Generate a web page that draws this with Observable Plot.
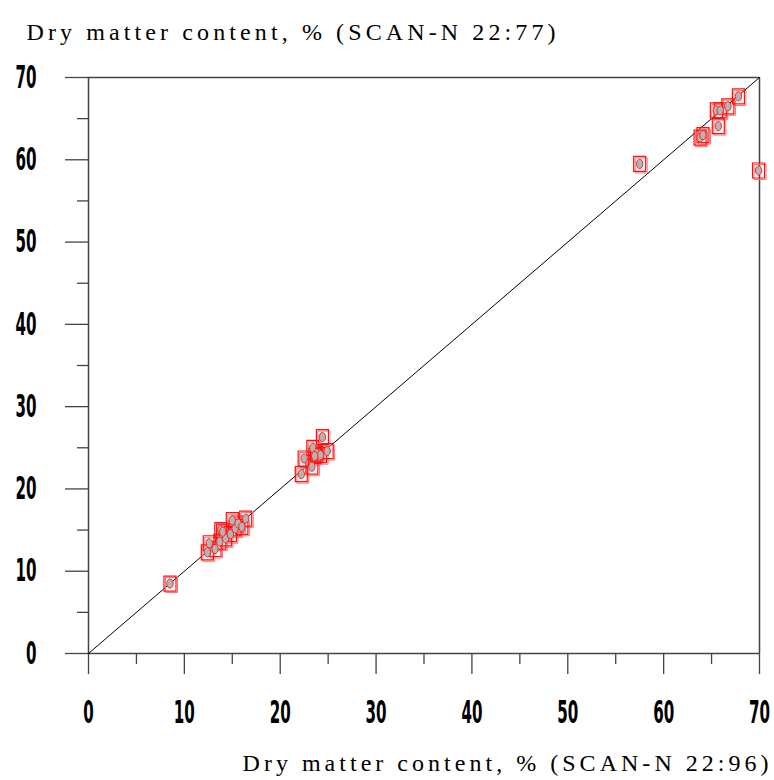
<!DOCTYPE html>
<html>
<head>
<meta charset="utf-8">
<script src="https://cdn.jsdelivr.net/npm/d3@7"></script>
<script src="https://cdn.jsdelivr.net/npm/@observablehq/plot@0.6"></script>
<style>
  html, body { margin: 0; padding: 0; background: white; }
</style>
</head>
<body>
<div id="chart"></div>
<script>
// Dry matter content, % by SCAN-N 22:96 (x) versus SCAN-N 22:77 (y)
const scan96 = [8.5, 12.4, 12.6, 13.2, 13.7, 13.8, 14.3, 14.8, 15.0, 15.3, 15.6, 16.0, 16.4, 14.0,
                22.2, 22.5, 23.3, 23.4, 23.8, 24.4, 24.2, 24.9, 23.6,
                57.5, 63.8, 64.1, 65.5, 65.7, 65.9, 66.7, 67.8, 69.9];
const scan77 = [8.5, 12.3, 13.4, 12.7, 13.6, 15.0, 14.0, 14.5, 16.2, 15.2, 15.8, 15.4, 16.4, 14.8,
                21.8, 23.7, 22.7, 25.0, 24.3, 26.3, 24.1, 24.6, 24.0,
                59.5, 62.7, 63.0, 66.0, 64.1, 66.0, 66.5, 67.7, 58.7];
const identity = [0, 70];
const majorTicks = [0, 10, 20, 30, 40, 50, 60, 70];
const minorTicks = [5, 15, 25, 35, 45, 55, 65];
const xTitle = "Dry matter content, % (SCAN-N 22:96)";
const yTitle = "Dry matter content, % (SCAN-N 22:77)";

const points = scan96.map((x, i) => ({x, y: scan77[i]}));
const diag = identity.map(v => ({x: v, y: v}));

const boxSymbol = {
  draw(ctx) { ctx.moveTo(-6, -7.5); ctx.lineTo(6, -7.5); ctx.lineTo(6, 7.5); ctx.lineTo(-6, 7.5); ctx.closePath(); }
};
const ellipseSymbol = {
  draw(ctx) {
    const rx = 3.2, ry = 4.6, k = 0.5523;
    ctx.moveTo(rx, 0);
    ctx.bezierCurveTo(rx, ry * k, rx * k, ry, 0, ry);
    ctx.bezierCurveTo(-rx * k, ry, -rx, ry * k, -rx, 0);
    ctx.bezierCurveTo(-rx, -ry * k, -rx * k, -ry, 0, -ry);
    ctx.bezierCurveTo(rx * k, -ry, rx, -ry * k, rx, 0);
    ctx.closePath();
  }
};

const tickFont = "'Liberation Sans Narrow', 'DejaVu Sans Condensed', 'Arial Narrow', sans-serif";
const serifFont = "'Liberation Serif', 'Times New Roman', serif";
const axisColor = "#444";

const chart = Plot.plot({
  width: 774,
  height: 780,
  marginLeft: 88,
  marginRight: 15,
  marginTop: 77,
  marginBottom: 127,
  style: {background: "white", overflow: "visible"},
  x: {domain: [0, 70], label: null},
  y: {domain: [0, 70], label: null},
  marks: [
    Plot.axisX(majorTicks, {label: null, tickSize: 21, tickPadding: 26, stroke: axisColor, strokeWidth: 1.3, fontFamily: tickFont, fontSize: 32, fontWeight: "bold", fill: "black", tickFormat: d => String(d)}),
    Plot.axisX(minorTicks, {label: null, tickSize: 11, stroke: axisColor, strokeWidth: 1.3, tickFormat: () => ""}),
    Plot.axisY(majorTicks, {label: null, tickSize: 23, tickPadding: 29, stroke: axisColor, strokeWidth: 1.3, fontFamily: tickFont, fontSize: 32, fontWeight: "bold", fill: "black", tickFormat: d => String(d)}),
    Plot.axisY(minorTicks, {label: null, tickSize: 11, stroke: axisColor, strokeWidth: 1.3, tickFormat: () => ""}),
    Plot.ruleY([0, 70], {stroke: axisColor, strokeWidth: 1.5}),
    Plot.ruleX([0, 70], {stroke: axisColor, strokeWidth: 1.5}),
    Plot.line(diag, {x: "x", y: "y", stroke: "black", strokeWidth: 1}),
    Plot.dot(points, {x: "x", y: "y", symbol: boxSymbol, r: 5, stroke: "#ff7070", strokeWidth: 1, fill: "none", dx: 1.5, dy: 1.5}),
    Plot.dot(points, {x: "x", y: "y", symbol: boxSymbol, r: 5, stroke: "#ff1010", strokeWidth: 1.2, fill: "none"}),
    Plot.dot(points, {x: "x", y: "y", symbol: ellipseSymbol, r: 5, stroke: "#ff2020", strokeWidth: 1, fill: "#b4b4b4"}),
    Plot.text([yTitle], {frameAnchor: "top-left", dx: -62, dy: -38, textAnchor: "start", lineAnchor: "bottom", fontFamily: serifFont, fontSize: 24, fill: "black"}),
    Plot.text([xTitle], {frameAnchor: "bottom-right", dx: 9, dy: 117, textAnchor: "end", lineAnchor: "bottom", fontFamily: serifFont, fontSize: 24, fill: "black"})
  ]
});

// condense tick labels and spread titles to match the reference typography
d3.select(chart).selectAll('[aria-label="x-axis tick label"] text, [aria-label="y-axis tick label"] text')
  .each(function() {
    const t = this.textContent;
    if (t) d3.select(this).attr("textLength", t.length * 10.5).attr("lengthAdjust", "spacingAndGlyphs");
  });
d3.select(chart).selectAll('[aria-label="text"] text')
  .each(function() {
    const t = this.textContent;
    if (t === yTitle) d3.select(this).attr("textLength", 529).attr("lengthAdjust", "spacing");
    if (t === xTitle) d3.select(this).attr("textLength", 526).attr("lengthAdjust", "spacing");
  });

document.getElementById("chart").appendChild(chart);
</script>
</body>
</html>
